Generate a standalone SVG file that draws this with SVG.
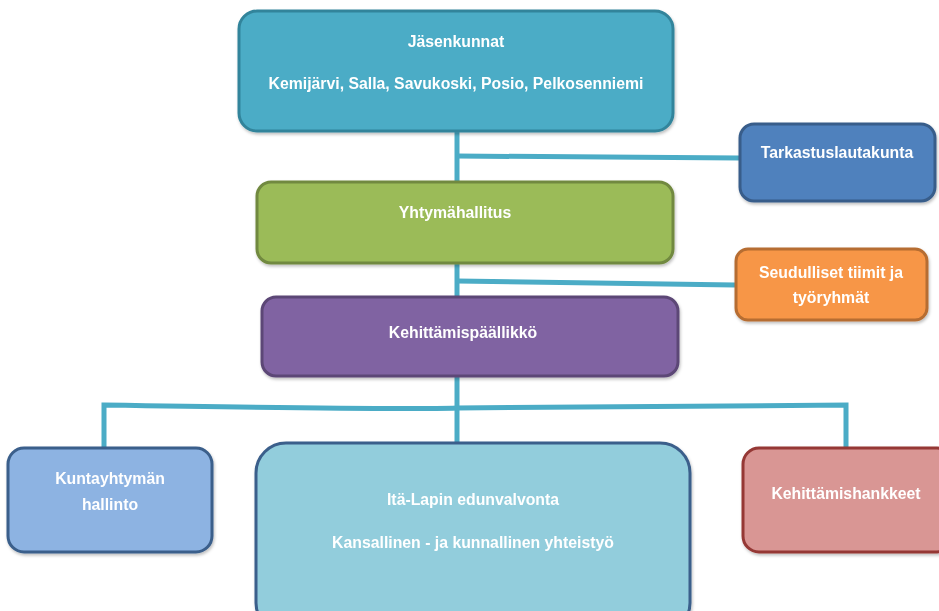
<svg xmlns="http://www.w3.org/2000/svg" width="939" height="611" viewBox="0 0 939 611">
<style>
.b{stroke-width:3}
.t{font-family:"Liberation Sans",Arial,sans-serif;font-weight:bold;font-size:15.8px;fill:#fff;text-anchor:middle}
.c{stroke:#4bacc6;stroke-width:5;fill:none}
</style>
<defs>
<filter id="sh" x="-10%" y="-10%" width="120%" height="130%">
<feDropShadow dx="1" dy="2" stdDeviation="1.5" flood-color="#000" flood-opacity="0.25"/>
</filter>
</defs>
<rect width="939" height="611" fill="#fff"/>
<g id="connectors">
<path class="c" d="M457 131 V181"/>
<path class="c" d="M457 156 L739 158"/>
<path class="c" d="M457 263 V296"/>
<path class="c" d="M457 281 L735 285"/>
<path class="c" d="M457 376 V444"/>
<path class="c" d="M104 448 V405 Q400 410 457 408 L846 405 V448"/>
</g>
<g id="jasenkunnat" filter="url(#sh)">
<rect class="b" x="239" y="11" width="434" height="120" rx="18" fill="#4bacc6" stroke="#31849b"/>
<text class="t" x="456" y="47">Jäsenkunnat</text>
<text class="t" x="456" y="89">Kemijärvi, Salla, Savukoski, Posio, Pelkosenniemi</text>
</g>
<g id="tarkastuslautakunta" filter="url(#sh)">
<rect class="b" x="740" y="124" width="195" height="77" rx="14" fill="#4f81bd" stroke="#385d8a"/>
<text class="t" x="837" y="158">Tarkastuslautakunta</text>
</g>
<g id="yhtymahallitus" filter="url(#sh)">
<rect class="b" x="257" y="182" width="416" height="81" rx="14" fill="#9bbb59" stroke="#71893f"/>
<text class="t" x="455" y="218">Yhtymähallitus</text>
</g>
<g id="seudulliset" filter="url(#sh)">
<rect class="b" x="736" y="249" width="191" height="71" rx="12" fill="#f79646" stroke="#b66d31"/>
<text class="t" x="831" y="278">Seudulliset tiimit ja</text>
<text class="t" x="831" y="303">työryhmät</text>
</g>
<g id="kehittamispaallikko" filter="url(#sh)">
<rect class="b" x="262" y="297" width="416" height="79" rx="14" fill="#8064a2" stroke="#5c4776"/>
<text class="t" x="463" y="338">Kehittämispäällikkö</text>
</g>
<g id="kuntayhtyman" filter="url(#sh)">
<rect class="b" x="8" y="448" width="204" height="104" rx="16" fill="#8db3e2" stroke="#3a5f8b"/>
<text class="t" x="110" y="484">Kuntayhtymän</text>
<text class="t" x="110" y="510">hallinto</text>
</g>
<g id="italapin" filter="url(#sh)">
<rect class="b" x="256" y="443" width="434" height="190" rx="30" fill="#92cddc" stroke="#3a5f8b"/>
<text class="t" x="473" y="505">Itä-Lapin edunvalvonta</text>
<text class="t" x="473" y="548">Kansallinen - ja kunnallinen yhteistyö</text>
</g>
<g id="kehittamishankkeet" filter="url(#sh)">
<rect class="b" x="743" y="448" width="210" height="104" rx="16" fill="#d99694" stroke="#953735"/>
<text class="t" x="846" y="499">Kehittämishankkeet</text>
</g>
</svg>
